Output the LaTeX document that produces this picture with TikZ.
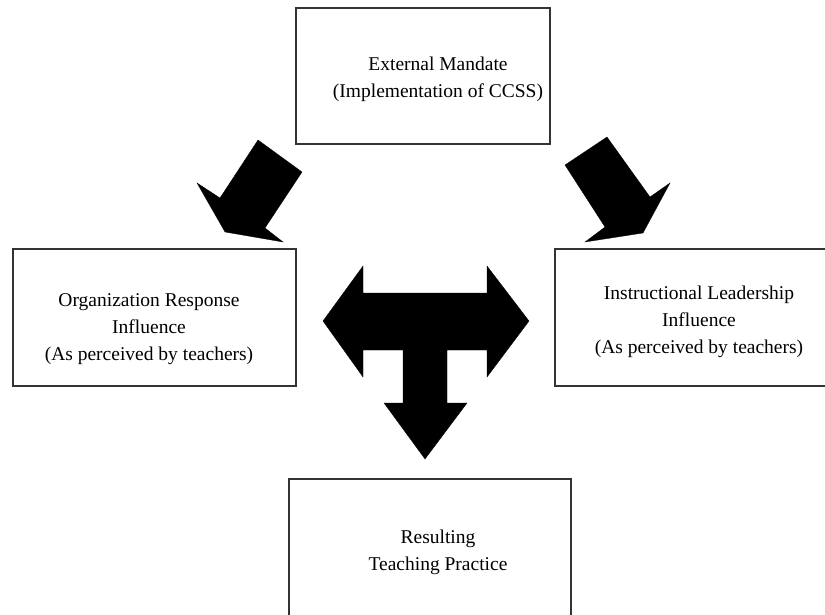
\documentclass[tikz,border=0pt]{standalone}
\usepackage{fontspec}
\setmainfont{Liberation Serif}
\begin{document}
\begin{tikzpicture}[x=1pt,y=-1pt,
  box/.style={draw=black!80,line width=1.3pt,fill=white},
  txt/.style={align=center,font=\fontsize{19.5}{27}\selectfont,inner sep=0pt},
  blockarrow/.style={fill=black,draw=black,line width=0.3pt,line join=miter}]
\useasboundingbox (0,0) rectangle (825,615);
% boxes
\draw[box] (296,8) rectangle (550,144) coordinate (topbox);
\draw[box] (13,249) rectangle (296,386);
\draw[box] (555,249) rectangle (828,386);
\draw[box] (289,479) rectangle (571,620);
% texts
\node[txt] (ext) at (438,79) {External Mandate\\(Implementation of CCSS)};
\node[txt] (org) at (149,329) {Organization Response\\Influence\\(As perceived by teachers)};
\node[txt] (ins) at (699,322) {Instructional Leadership\\Influence\\(As perceived by teachers)};
\node[txt] (res) at (438,552) {Resulting\\Teaching Practice};
% block arrows
\fill[blockarrow] (258,140) -- (302,172) -- (265,228) -- (283,242) -- (225,232) -- (197,183) -- (220,198) -- cycle;
\fill[blockarrow] (607,137) -- (565,165) -- (605,227) -- (585,242) -- (643,233) -- (670,183) -- (650,197) -- cycle;
\fill[blockarrow] (323,321) -- (363,266) -- (363,293) -- (487,293) -- (487,266) -- (529,321)
  -- (487,377) -- (487,350) -- (447,350) -- (447,403) -- (467,403) -- (425,459)
  -- (384,403) -- (403,403) -- (403,350) -- (363,350) -- (363,377) -- cycle;
\end{tikzpicture}
\end{document}
